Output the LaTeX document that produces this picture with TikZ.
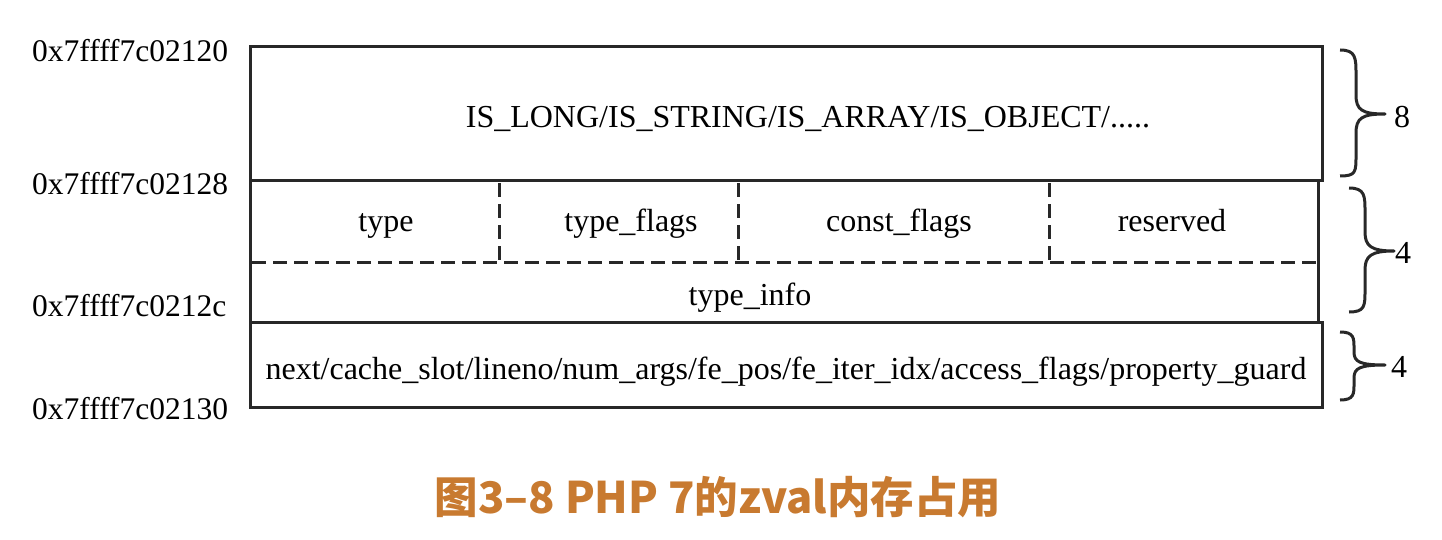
\documentclass[tikz,border=0pt]{standalone}
\usepackage{fontspec}
\setmainfont{Liberation Serif}
\newfontfamily\cjk{Noto Sans CJK SC}
\definecolor{capcol}{RGB}{200,122,48}
\definecolor{ink}{RGB}{40,40,40}
\begin{document}
\begin{tikzpicture}[x=1pt,y=-1pt,
  box/.style={draw=ink,line width=3pt},
  dsh/.style={draw=ink,line width=3pt,dash pattern=on 14pt off 7pt},
  lbl/.style={font=\fontsize{32}{36}\selectfont,text=black,inner sep=0pt,anchor=base},
  addr/.style={lbl,font=\fontsize{31.5}{36}\selectfont,anchor=base west},
  brc/.style={draw=ink,line width=3pt,line join=round}]
\useasboundingbox (0,0) rectangle (1442,540);
% boxes
\draw[box] (250,47) rectangle (1322,181);
\draw[box] (250,181) -- (250,322);
\draw[box] (1318,181) -- (1318,322);
\draw[box] (250,322) rectangle (1322,407);
\draw[dsh] (252,262) -- (1316,262);
\draw[dsh] (499,183) -- (499,262);
\draw[dsh] (738,183) -- (738,262);
\draw[dsh] (1049,183) -- (1049,262);
% texts
\node[lbl] (top) at (808,128) {IS\_LONG/IS\_STRING/IS\_ARRAY/IS\_OBJECT/.....};
\node[lbl] (ty) at (386,231) {type};
\node[lbl] (tf) at (631,231) {type\_flags};
\node[lbl] (cf) at (899,231) {const\_flags};
\node[lbl] (rs) at (1172,231) {reserved};
\node[lbl] (ti) at (750,305) {type\_info};
\node[lbl] (nx) at (786,379) {next/cache\_slot/lineno/num\_args/fe\_pos/fe\_iter\_idx/access\_flags/property\_guard};
% addresses
\node[addr] (a1) at (32,62) {0x7ffff7c02120};
\node[addr] (a2) at (32,194) {0x7ffff7c02128};
\node[addr] (a3) at (32,316) {0x7ffff7c0212c};
\node[addr] (a4) at (32,419) {0x7ffff7c02130};
% braces
\draw[brc] (1340,50) .. controls (1356,50) and (1356,58) .. (1356,75)
  -- (1356,95) .. controls (1356,110) and (1362,114) .. (1385,114)
  .. controls (1362,114) and (1356,118) .. (1356,133)
  -- (1356,155) .. controls (1356,172) and (1356,176) .. (1340,176);
\node[lbl,anchor=base west] (b1) at (1394,128) {8};
\draw[brc] (1349,188) .. controls (1365,188) and (1365,196) .. (1365,212)
  -- (1365,232) .. controls (1365,246) and (1371,251) .. (1394,251)
  .. controls (1371,251) and (1365,256) .. (1365,270)
  -- (1365,290) .. controls (1365,306) and (1365,312) .. (1349,312);
\node[lbl,anchor=base west] (b2) at (1395,263) {4};
\draw[brc] (1340,332) .. controls (1354,332) and (1354,338) .. (1354,348)
  -- (1354,352) .. controls (1354,362) and (1360,365) .. (1385,365)
  .. controls (1360,365) and (1354,368) .. (1354,378)
  -- (1354,384) .. controls (1354,394) and (1354,400) .. (1340,400);
\node[lbl,anchor=base west] (b3) at (1391,377) {4};
% caption
\node[font=\cjk\bfseries\fontsize{43.5}{48}\selectfont,text=capcol,inner sep=0pt] (cap) at (718,497) {图3–8 PHP 7的zval内存占用};
\end{tikzpicture}
\end{document}
